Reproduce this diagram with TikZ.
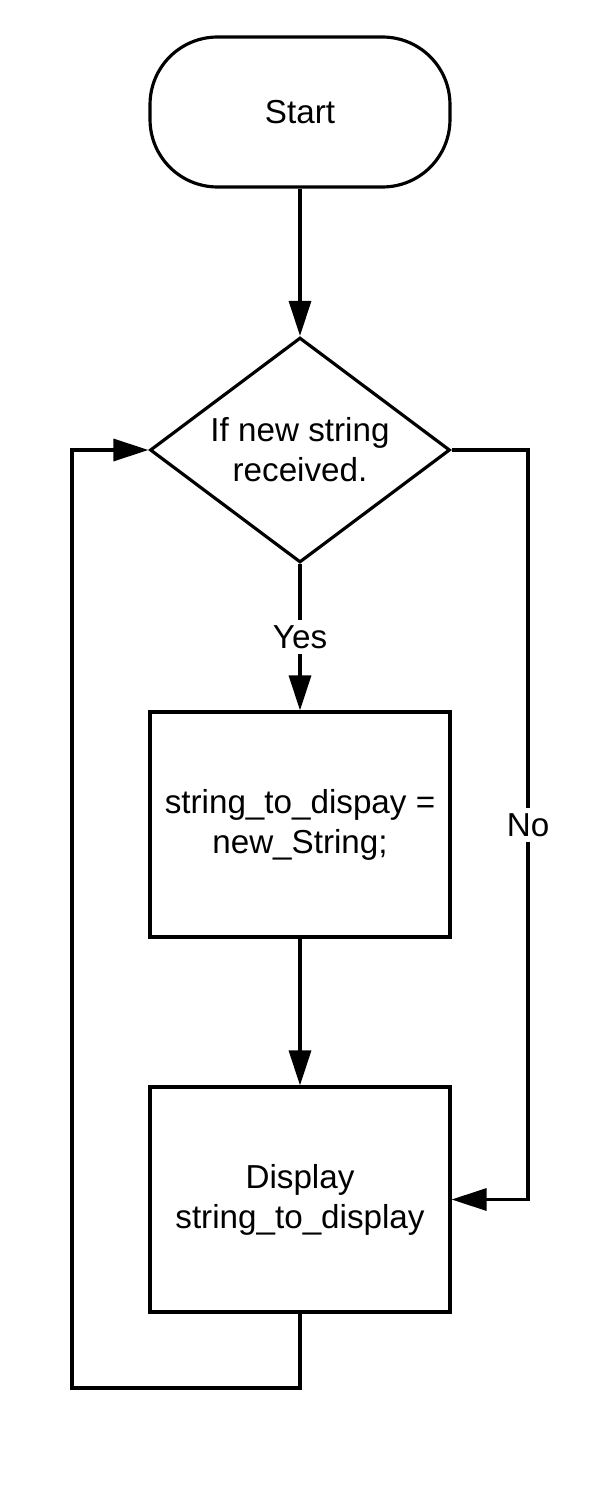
\documentclass[tikz,border=0pt]{standalone}
\usepackage{fontspec}
\setmainfont{Liberation Sans}
\usetikzlibrary{shapes.geometric,arrows.meta}

\begin{document}
\begin{tikzpicture}[x=0.02cm,y=-0.02cm,
  every node/.style={font=\fontsize{18.9}{22.8}\selectfont,align=center},
  flowline/.style={line width=1.8pt,line join=miter},
  flowarrow/.style={flowline,-{Triangle[length=0.7cm,width=0.44cm]}},
  terminal/.style={draw,line width=1.8pt,rounded corners=1.35cm,minimum width=6cm,minimum height=3cm},
  decision/.style={draw,line width=1.8pt,diamond,aspect=1.333,inner sep=0pt,minimum width=6cm,minimum height=4.5cm},
  process/.style={draw,line width=1.8pt,minimum width=6cm,minimum height=4.5cm},
  edgelabel/.style={fill=white,inner sep=3pt}]

\useasboundingbox (0,0) rectangle (594,1493);

\node[terminal] (start) at (300,112) {Start};
\node[decision] (check) at (300,450) {If new string\\received.};
\node[process] (assign) at (300,824.5) {string\_to\_dispay =\\new\_String;};
\node[process] (show) at (300,1199.5) {Display\\string\_to\_display};

\coordinate (noturn) at (528,450);
\coordinate (loopbot) at (72,1388);

\draw[flowarrow] (start) -- (check);
\draw[flowarrow] (check) -- node[edgelabel]{Yes} (assign);
\draw[flowarrow] (assign) -- (show);
\draw[flowarrow] (check.east) -- (noturn) -- node[edgelabel]{No} (noturn |- show.east) -- (show.east);
\draw[flowarrow] (show.south) |- (loopbot) |- (check.west);
\end{tikzpicture}
\end{document}
